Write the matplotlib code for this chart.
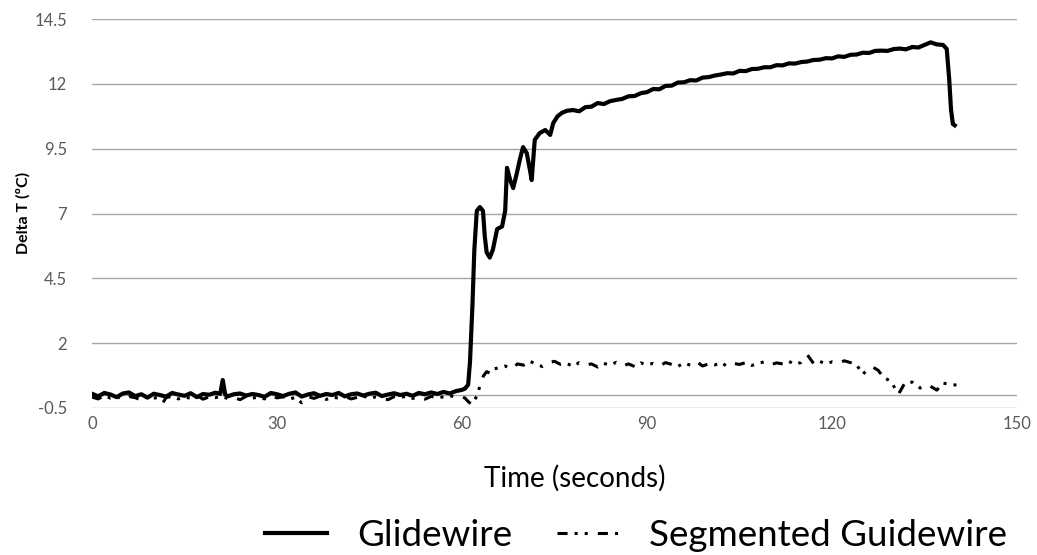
import numpy as np
import matplotlib
matplotlib.use("Agg")
import matplotlib.pyplot as plt

plt.rcParams['font.family'] = ['Lato', 'DejaVu Sans']

# Glidewire temperature change (solid line)
glide_t = [
    0, 1, 2, 3, 4, 5, 6, 7, 8, 9, 10, 11, 12, 13, 14, 15, 16, 17, 18, 19,
    20, 20.8, 21.2, 21.6, 22, 23, 24, 25, 26, 27, 28, 29, 30, 31, 32, 33, 34, 35, 36, 37,
    38, 39, 40, 41, 42, 43, 44, 45, 46, 47, 48, 49, 50, 51, 52, 53, 54, 55, 56, 57,
    58, 59, 60, 60.5, 61, 61.3, 61.7, 62.0, 62.4, 62.9, 63.4, 63.7, 64.0, 64.5, 65.0,
    65.7, 66.5, 67.0, 67.3, 67.8, 68.3, 68.9, 69.4, 69.9, 70.5, 71.0, 71.3, 71.8, 72.6,
    73.5, 74.3, 74.8, 75.5, 76.2, 77, 78, 79, 80, 81, 82,
    83, 84, 85, 86, 87, 88, 89, 90, 91, 92, 93, 94, 95, 96, 97, 98, 99, 100,
    101, 102, 103, 104, 105, 106, 107, 108, 109, 110, 111, 112, 113, 114, 115, 116,
    117, 118, 119, 120, 121, 122, 123, 124, 125, 126, 127, 128, 129, 130, 131, 132,
    133, 134, 135, 136, 137, 138, 138.6, 139.0, 139.3, 139.6, 139.9,
]
glide_v = [
    0.05, -0.05, 0.08, 0.02, -0.08, 0.06, 0.10, -0.04, 0.03, -0.10, 0.05, 0.00, -0.06, 0.08, 0.02, -0.03, 0.07, -0.08, 0.04, 0.01,
    0.09, 0.05, 0.58, 0.02, -0.05, 0.03, 0.06, -0.02, 0.04, 0.00, -0.07, 0.08, 0.03, -0.04, 0.05, 0.10, -0.06, 0.02, 0.07, -0.03,
    0.04, 0.00, 0.08, -0.05, 0.03, 0.06, -0.02, 0.05, 0.09, -0.04, 0.02, 0.07, 0.00, 0.05, -0.03, 0.08, 0.03, 0.10, 0.04, 0.12,
    0.06, 0.15, 0.20, 0.25, 0.40, 1.30, 3.50, 5.60, 7.10, 7.25, 7.10, 6.10, 5.50, 5.30, 5.60,
    6.40, 6.50, 7.10, 8.76, 8.30, 7.98, 8.56, 9.10, 9.56, 9.33, 8.70, 8.29, 9.84, 10.10,
    10.22, 10.03, 10.49, 10.75, 10.88, 10.96, 10.99, 10.94, 11.10, 11.12, 11.26,
    11.22, 11.33, 11.38, 11.42, 11.52, 11.53, 11.64, 11.68, 11.80, 11.79, 11.92, 11.93, 12.05, 12.06, 12.14, 12.13, 12.24, 12.26,
    12.32, 12.36, 12.41, 12.40, 12.50, 12.49, 12.57, 12.58, 12.64, 12.64, 12.72, 12.71, 12.79, 12.78, 12.84, 12.86,
    12.92, 12.93, 12.99, 12.98, 13.06, 13.04, 13.12, 13.13, 13.20, 13.19, 13.27, 13.28, 13.27, 13.34, 13.36, 13.33,
    13.42, 13.40, 13.50, 13.60, 13.52, 13.50, 13.35, 12.20, 11.00, 10.45, 10.40,
]

# Segmented guidewire temperature change (dash-dot line)
seg_t = [
    0, 1, 2, 3, 4, 5, 6, 7, 8, 9, 10, 11, 11.5, 12, 13, 14, 15, 16, 17, 18, 19,
    20, 21, 22, 23, 24, 25, 26, 27, 28, 29, 30, 31, 32, 33, 34, 35, 36, 37, 38, 39,
    40, 41, 42, 43, 44, 45, 46, 47, 48, 49, 50, 51, 52, 53, 54, 55, 56, 57, 58, 59,
    60, 60.5, 61, 61.5, 62, 62.5, 63, 63.5, 64, 64.5, 65, 66, 67, 68, 69, 70,
    71, 72, 73, 74, 75, 76, 77, 78, 79, 80, 81, 82, 83, 84, 85, 86, 87, 88, 89, 90,
    91, 92, 93, 94, 95, 96, 97, 98, 99, 100, 101, 102, 103, 104, 105, 106, 107, 108, 109, 110,
    111, 112, 113, 114, 115, 116, 117, 118, 119, 120, 121, 122, 123, 124, 125, 126, 126.6, 127.5,
    128.3, 129.7, 130.7, 131.8, 133, 134.3, 135.6, 137, 138, 139.6, 140.7,
]
seg_v = [
    -0.08, -0.15, -0.02, -0.12, -0.05, -0.18, -0.06, -0.10, -0.20, -0.04, -0.12, -0.08, -0.30, -0.10, -0.05, -0.15, -0.08, -0.12, -0.02, -0.16, -0.07,
    -0.10, -0.04, -0.14, -0.09, -0.18, -0.05, -0.12, -0.08, -0.15, -0.03, -0.11, -0.07, -0.16, -0.09, -0.30, -0.06, -0.13, -0.04, -0.17, -0.08,
    -0.12, -0.05, -0.15, -0.09, -0.03, -0.14, -0.07, -0.11, -0.18, -0.06, -0.10, -0.04, -0.13, -0.08, -0.16, -0.05, -0.11, -0.07, -0.02, -0.09,
    -0.06, -0.12, -0.25, -0.35, -0.20, 0.00, 0.45, 0.75, 0.90, 0.85, 1.00, 1.05, 1.12, 1.00, 1.20, 1.15,
    1.30, 1.20, 1.10, 1.25, 1.30, 1.18, 1.22, 1.10, 1.25, 1.15, 1.20, 1.08, 1.22, 1.15, 1.26, 1.12, 1.20, 1.10, 1.24, 1.16,
    1.22, 1.12, 1.25, 1.18, 1.10, 1.24, 1.15, 1.30, 1.12, 1.20, 1.16, 1.26, 1.10, 1.22, 1.18, 1.25, 1.14, 1.22, 1.28, 1.16,
    1.24, 1.20, 1.30, 1.18, 1.26, 1.55, 1.22, 1.30, 1.20, 1.28, 1.23, 1.32, 1.25, 1.16, 0.80, 1.05, 1.08, 0.95,
    0.70, 0.50, 0.00, 0.46, 0.50, 0.27, 0.39, 0.19, 0.46, 0.39, 0.39,
]

x_ticks = [0, 30, 60, 90, 120, 150]
y_ticks = [-0.5, 2, 4.5, 7, 9.5, 12, 14.5]

fig = plt.figure(figsize=(10.37, 5.55), dpi=100)
ax = fig.add_axes([92 / 1037, 1 - 408 / 555, (1017 - 92) / 1037, (408 - 19) / 555])

grid_color = '#a6a6a6'
for y in y_ticks:
    ax.axhline(y, color=grid_color, lw=1.0, zorder=1)
ax.axhline(0, color=grid_color, lw=1.0, zorder=1)

ax.plot(glide_t, glide_v, color='black', lw=3.0, solid_joinstyle='round',
        label='Glidewire', zorder=3)
ax.plot(seg_t, seg_v, color='black', lw=2.2,
        linestyle=(0, (3.3, 2.3, 1.0, 2.3, 1.0, 3.3)),
        label='Segmented Guidewire', zorder=3)

ax.set_xlim(0, 150)
ax.set_ylim(-0.5, 14.5)
ax.set_xticks(x_ticks)
ax.set_yticks(y_ticks)
ax.set_yticklabels([f'{v:g}' for v in y_ticks])
ax.tick_params(length=0, labelsize=12, colors='#595959')
ax.tick_params(axis='y', pad=18)
ax.tick_params(axis='x', pad=6)
for s in ax.spines.values():
    s.set_visible(False)

fig.text(23 / 1037, 1 - 213 / 555, 'Delta T (ºC)', rotation=90, ha='center',
         va='center', fontsize=11.5, fontweight='bold')
fig.text(575 / 1037, 1 - 478 / 555, 'Time (seconds)', ha='center', va='center',
         fontsize=20)

fig.legend(loc='center', bbox_to_anchor=(636 / 1037, 1 - 535 / 555), ncol=2,
           frameon=False, fontsize=26.5, handlelength=1.68, columnspacing=1.22,
           handletextpad=0.82, borderpad=0)

fig.savefig('out.png', dpi=100)
